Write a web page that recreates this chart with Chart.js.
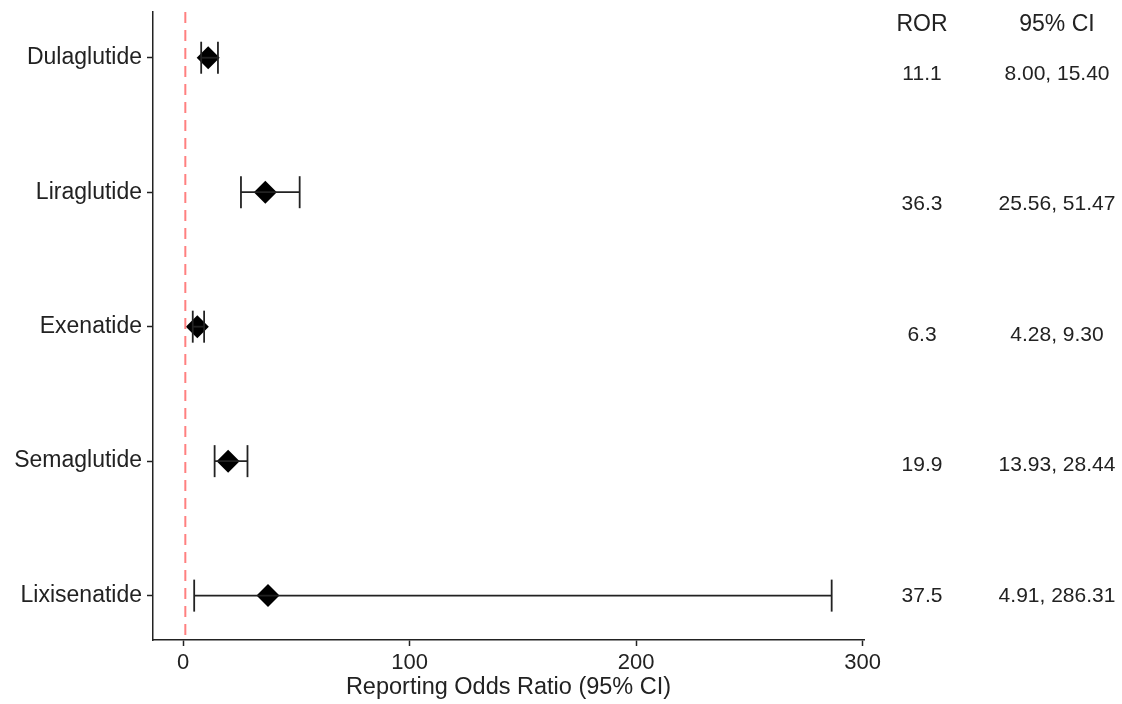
<!DOCTYPE html>
<html>
<head>
<meta charset="utf-8">
<script src="https://cdn.jsdelivr.net/npm/chart.js@4/dist/chart.umd.min.js"></script>
<style>
  html, body { margin: 0; padding: 0; background: #fff; }
  #wrap { width: 1122px; height: 704px; position: relative; }
</style>
</head>
<body>
<div id="wrap"><canvas id="forest"></canvas></div>
<script>
// --- Data
const drugs = ["Dulaglutide", "Liraglutide", "Exenatide", "Semaglutide", "Lixisenatide"];
const ror = [11.1, 36.3, 6.3, 19.9, 37.5];
const ciLow = [8.00, 25.56, 4.28, 13.93, 4.91];
const ciHigh = [15.40, 51.47, 9.30, 28.44, 286.31];
const xTicks = [0, 100, 200, 300];
const refLine = 1;

const xMin = -13.27, xMax = 300.58;
const yMin = -0.34, yMax = 4.33;

const FONT = "'Liberation Sans', Arial, sans-serif";
const INK = "#222";

// ------------------------------------------
// DATASETS
// ------------------------------------------
const datasets = [];

datasets.push({
  type: "line",
  data: [{ x: refLine, y: yMin }, { x: refLine, y: yMax }],
  borderColor: "#ff8080",
  borderWidth: 2,
  borderDash: [11, 7],
  pointRadius: 0
});

drugs.forEach((d, i) => {
  datasets.push({
    type: "line",
    data: [{ x: ciLow[i], y: i }, { x: ciHigh[i], y: i }],
    borderColor: "#222",
    borderWidth: 1.8,
    pointStyle: "line",
    rotation: 90,
    pointRadius: 16,
    pointBorderColor: "#222",
    pointBorderWidth: 1.8
  });
});

datasets.push({
  type: "scatter",
  data: ror.map((v, i) => ({ x: v, y: i })),
  pointStyle: "rectRot",
  pointRadius: 11.5,
  backgroundColor: "#000",
  borderColor: "#000",
  borderWidth: 0
});

// ------------------------------------------
// RIGHT-HAND TABLE (ROR / 95% CI)
// ------------------------------------------
const tablePlugin = {
  id: "rorTable",
  afterDraw(chart) {
    const ctx = chart.ctx;
    ctx.save();
    ctx.fillStyle = INK;
    ctx.textAlign = "center";
    ctx.textBaseline = "middle";
    ctx.font = "23px " + FONT;
    ctx.fillText("ROR", 922, 25);
    ctx.fillText("95% CI", 1057, 25);
    ctx.font = "21px " + FONT;
    drugs.forEach((d, i) => {
      const y = 74 + i * 130.5;
      ctx.fillText(ror[i].toFixed(1), 922, y);
      ctx.fillText(ciLow[i].toFixed(2) + ", " + ciHigh[i].toFixed(2), 1057, y);
    });
    ctx.restore();
  }
};

new Chart(document.getElementById("forest"), {
  data: { datasets },
  plugins: [tablePlugin],
  options: {
    responsive: true,
    maintainAspectRatio: false,
    animation: false,
    layout: { autoPadding: false, padding: { top: 12, right: 258, left: 0, bottom: 0 } },
    plugins: { legend: { display: false }, tooltip: { enabled: false } },
    scales: {
      x: {
        type: "linear",
        min: xMin,
        max: xMax,
        afterBuildTicks: s => { s.ticks = xTicks.map(v => ({ value: v })); },
        afterFit: s => { s.height = 64; },
        grid: { drawOnChartArea: false, tickLength: 6, tickColor: "#222", tickWidth: 1.5 },
        border: { color: "#222", width: 1.5 },
        ticks: { color: INK, font: { family: FONT, size: 22 }, padding: 4, maxRotation: 0 },
        title: {
          display: true,
          text: "Reporting Odds Ratio (95% CI)",
          color: INK,
          font: { family: FONT, size: 23.5 },
          padding: { top: 0, bottom: 2 }
        }
      },
      y: {
        type: "linear",
        reverse: true,
        min: yMin,
        max: yMax,
        afterBuildTicks: s => { s.ticks = drugs.map((d, i) => ({ value: i })); },
        afterFit: s => { s.width = 153; s.paddingTop = 0; s.paddingBottom = 0; },
        grid: { drawOnChartArea: false, tickLength: 6, tickColor: "#222", tickWidth: 1.5 },
        border: { color: "#222", width: 1.5 },
        ticks: {
          color: INK,
          font: { family: FONT, size: 23 },
          padding: 5,
          callback: v => drugs[v] ?? ""
        }
      }
    }
  }
});
</script>
</body>
</html>
